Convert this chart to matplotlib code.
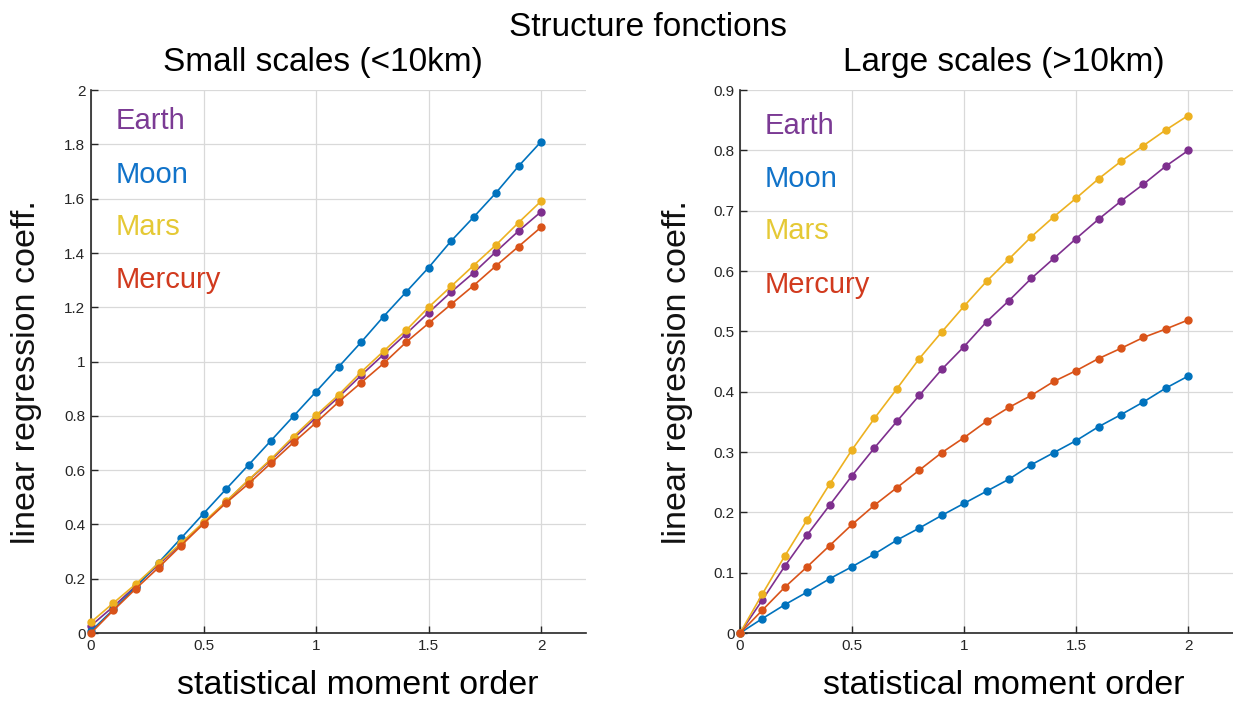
import matplotlib.pyplot as plt
import matplotlib.ticker as mticker

# statistical moment order (x axis, both panels)
moment_order = [0.0, 0.1, 0.2, 0.3, 0.4, 0.5, 0.6, 0.7, 0.8, 0.9, 1.0,
                1.1, 1.2, 1.3, 1.4, 1.5, 1.6, 1.7, 1.8, 1.9, 2.0]

# small scales (<10km)
small_earth = [0.027, 0.098, 0.174, 0.252, 0.328, 0.405, 0.483, 0.563, 0.637, 0.717, 0.794,
               0.869, 0.949, 1.026, 1.102, 1.180, 1.256, 1.327, 1.405, 1.481, 1.552]
small_moon = [0.007, 0.087, 0.170, 0.259, 0.349, 0.440, 0.530, 0.619, 0.709, 0.799, 0.889,
              0.980, 1.071, 1.166, 1.256, 1.346, 1.444, 1.532, 1.622, 1.720, 1.810]
small_mars = [0.040, 0.111, 0.181, 0.257, 0.331, 0.408, 0.485, 0.564, 0.641, 0.724, 0.802,
              0.877, 0.961, 1.038, 1.115, 1.200, 1.277, 1.354, 1.430, 1.512, 1.591]
small_mercury = [0.000, 0.084, 0.164, 0.241, 0.322, 0.402, 0.479, 0.550, 0.626, 0.702, 0.775,
                 0.851, 0.922, 0.993, 1.071, 1.141, 1.211, 1.280, 1.353, 1.424, 1.495]

# large scales (>10km)
large_earth = [0.0, 0.055, 0.111, 0.163, 0.212, 0.261, 0.307, 0.351, 0.394, 0.437, 0.475,
               0.516, 0.551, 0.588, 0.621, 0.654, 0.686, 0.716, 0.744, 0.774, 0.800]
large_moon = [0.0, 0.024, 0.047, 0.068, 0.090, 0.110, 0.131, 0.154, 0.174, 0.195, 0.215,
              0.235, 0.255, 0.279, 0.299, 0.319, 0.342, 0.362, 0.383, 0.406, 0.426]
large_mars = [0.0, 0.065, 0.128, 0.188, 0.247, 0.304, 0.356, 0.405, 0.455, 0.499, 0.542,
              0.583, 0.620, 0.657, 0.690, 0.721, 0.753, 0.782, 0.808, 0.834, 0.858]
large_mercury = [0.0, 0.038, 0.076, 0.110, 0.145, 0.180, 0.212, 0.241, 0.270, 0.299, 0.324,
                 0.351, 0.374, 0.394, 0.417, 0.435, 0.455, 0.472, 0.490, 0.504, 0.519]

bodies = ["Earth", "Moon", "Mars", "Mercury"]
line_colors = {"Earth": "#7E2F8E", "Moon": "#0072BD", "Mars": "#EDB120", "Mercury": "#D95319"}
text_colors = {"Earth": "#7B3A94", "Moon": "#1173C9", "Mars": "#E5C935", "Mercury": "#D13A1E"}

plt.rcParams["font.family"] = ["Liberation Sans", "DejaVu Sans"]

fig = plt.figure(figsize=(12.33, 7.05), dpi=100)
ax_small = fig.add_axes([0.0738, 0.1021, 0.4015, 0.770])
ax_large = fig.add_axes([0.6002, 0.1021, 0.3998, 0.770])


def draw_panel(ax, series, ymax, ystep, label_y, ylab_x):
   for name in bodies:
      ax.plot(moment_order, series[name], color=line_colors[name], lw=1.2,
              marker="o", ms=5, mec=line_colors[name], zorder=3, clip_on=False)
   ax.set_xlim(0, 2.2)
   ax.set_ylim(0, ymax)
   ax.set_xticks([0, 0.5, 1, 1.5, 2])
   ax.yaxis.set_major_locator(mticker.MultipleLocator(ystep))
   ax.xaxis.set_major_formatter(mticker.FuncFormatter(lambda v, p: f"{v:g}"))
   ax.yaxis.set_major_formatter(mticker.FuncFormatter(lambda v, p: f"{round(v, 2):g}"))
   ax.grid(True, color="#d9d9d9", lw=0.9)
   ax.set_axisbelow(True)
   for s in ["top", "right"]:
      ax.spines[s].set_visible(False)
   for s in ["left", "bottom"]:
      ax.spines[s].set_color("#262626")
      ax.spines[s].set_linewidth(1.2)
   ax.tick_params(direction="in", length=5, width=1, colors="#262626",
                  labelsize=11, pad=4)
   ax.set_ylabel("linear regression coeff.", fontsize=24.5, color="#111111")
   ax.yaxis.set_label_coords(ylab_x, 0.481)
   for name, yy in zip(bodies, label_y):
      ax.text(0.05, yy, name, transform=ax.transAxes, fontsize=21,
              color=text_colors[name], va="center", ha="left")


draw_panel(ax_small, {"Earth": small_earth, "Moon": small_moon,
                      "Mars": small_mars, "Mercury": small_mercury},
           2, 0.2, [0.943, 0.843, 0.748, 0.650], -0.099)
draw_panel(ax_large, {"Earth": large_earth, "Moon": large_moon,
                      "Mars": large_mars, "Mercury": large_mercury},
           0.9, 0.1, [0.934, 0.836, 0.740, 0.641], -0.095)

fig.text(648 / 1233, 1 - 28 / 705, "Structure fonctions", fontsize=24, ha="center", va="center")
fig.text(323 / 1233, 1 - 62 / 705, "Small scales (<10km)", fontsize=24, ha="center", va="center")
fig.text(1004 / 1233, 1 - 62 / 705, "Large scales (>10km)", fontsize=24, ha="center", va="center")
fig.text(358 / 1233, 1 - 686 / 705, "statistical moment order", fontsize=24.5, ha="center", va="center")
fig.text(1004 / 1233, 1 - 686 / 705, "statistical moment order", fontsize=24.5, ha="center", va="center")

fig.savefig("out.png", dpi=100)
